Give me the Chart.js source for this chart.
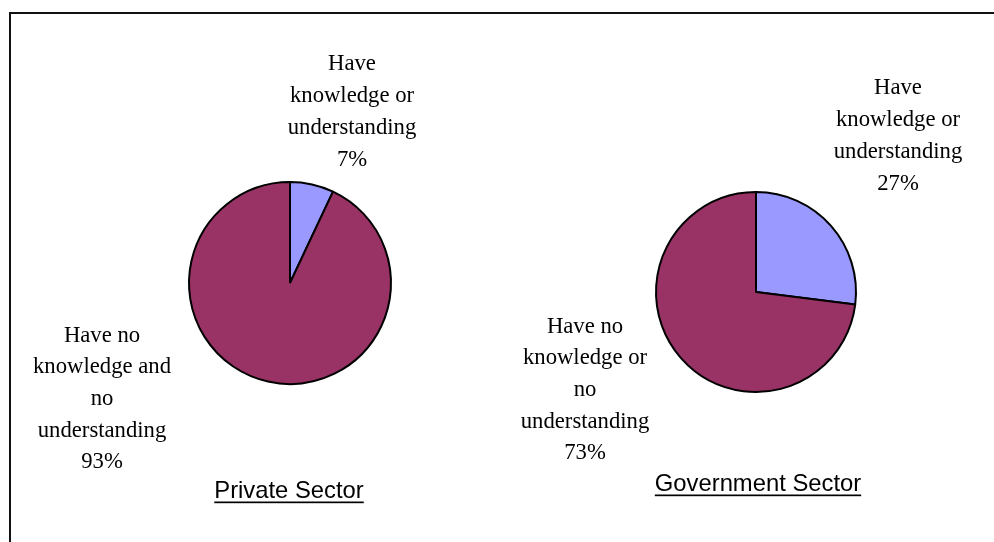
<!DOCTYPE html>
<html>
<head>
<meta charset="utf-8">
<script src="https://cdn.jsdelivr.net/npm/chart.js@4/dist/chart.umd.min.js"></script>
<style>
  html, body { margin: 0; padding: 0; background: #fff; }
  body { width: 994px; height: 542px; overflow: hidden; position: relative; }
  #frame { position: absolute; left: 9px; top: 12px; width: 1000px; height: 600px; border: 2px solid #111; box-sizing: border-box; }
  canvas { position: absolute; top: 0; }
  #cPrivate { left: 0; }
  #cGov { left: 497px; }
</style>
</head>
<body>
<div id="frame"></div>
<canvas id="cPrivate" width="497" height="542"></canvas>
<canvas id="cGov" width="497" height="542"></canvas>
<script>
// Survey answers: knowledge / understanding by sector
const privateLabels = [
  ["Have", "knowledge or", "understanding"],
  ["Have no", "knowledge and", "no", "understanding"]
];
const privateValues = [7, 93];

const govLabels = [
  ["Have", "knowledge or", "understanding"],
  ["Have no", "knowledge or", "no", "understanding"]
];
const govValues = [27, 73];

const sliceColors = ["#9999FF", "#993366"];

// Draws the wrapped slice labels (with percentages) and the underlined sector title
const annotate = {
  id: "annotate",
  afterDraw(chart, args, opts) {
    const ctx = chart.ctx;
    const meta = chart.getDatasetMeta(0);
    const arc = meta.data[0];
    const cx = arc.x, cy = arc.y;
    const values = chart.data.datasets[0].data;
    const lines = chart.data.labels;
    ctx.save();
    ctx.fillStyle = "#000";
    ctx.textAlign = "center";
    ctx.textBaseline = "middle";
    ctx.font = "22.7px 'Liberation Serif', 'Times New Roman', serif";
    opts.spots.forEach((spot, i) => {
      const text = lines[i].concat([values[i] + "%"]);
      const lh = 31.7;
      const top = cy + spot.dy - (text.length - 1) * lh / 2;
      text.forEach((t, k) => ctx.fillText(t, cx + spot.dx, top + k * lh));
    });
    // sector title
    ctx.font = "23.8px 'Liberation Sans', Arial, sans-serif";
    ctx.textBaseline = "alphabetic";
    const tx = cx + opts.title.dx, ty = cy + opts.title.dy;
    ctx.fillText(opts.title.text, tx, ty);
    const w = ctx.measureText(opts.title.text).width;
    ctx.fillRect(tx - w / 2, ty + 3.5, w, 1.7);
    ctx.restore();
  }
};

function pie(id, labels, values, padding, radius, spots, title) {
  return new Chart(document.getElementById(id), {
    type: "pie",
    data: {
      labels: labels,
      datasets: [{
        data: values,
        backgroundColor: sliceColors,
        borderColor: "#000",
        borderWidth: 2
      }]
    },
    options: {
      responsive: false,
      animation: false,
      devicePixelRatio: 1,
      radius: radius,
      layout: { padding: padding },
      plugins: {
        legend: { display: false },
        tooltip: { enabled: false },
        annotate: { spots: spots, title: title }
      }
    },
    plugins: [annotate]
  });
}

pie("cPrivate", privateLabels, privateValues,
  { left: 180, right: 97, top: 173, bottom: 149 }, 101,
  [{ dx: 62, dy: -171 }, { dx: -188, dy: 116 }],
  { text: "Private Sector", dx: -1, dy: 215 });

pie("cGov", govLabels, govValues,
  { left: 149, right: 128, top: 182, bottom: 140 }, 100,
  [{ dx: 142, dy: -156 }, { dx: -171, dy: 98 }],
  { text: "Government Sector", dx: 2, dy: 199 });
</script>
</body>
</html>
